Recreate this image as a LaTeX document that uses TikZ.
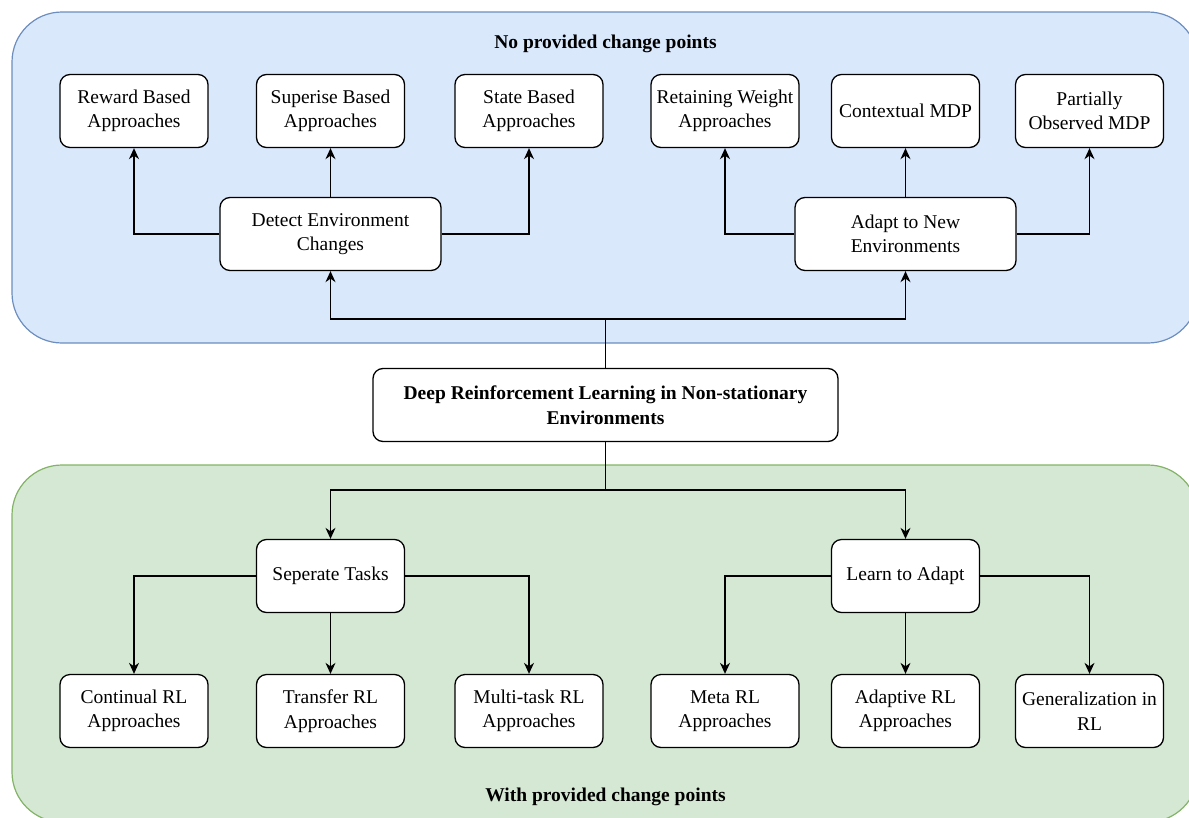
\documentclass[tikz,border=0pt]{standalone}
\usepackage{fontspec}
\setmainfont{Liberation Serif}
\usetikzlibrary{arrows.meta}
\definecolor{bluefill}{HTML}{DAE8FC}
\definecolor{bluedraw}{HTML}{6C8EBF}
\definecolor{greenfill}{HTML}{D5E8D4}
\definecolor{greendraw}{HTML}{82B366}

\begin{document}
\begin{tikzpicture}[x=1pt,y=-1pt,
  txt/.style={font=\fontsize{19.5}{24.5}\selectfont},
  box/.style={txt, draw=black, fill=white, rounded corners=10pt, line width=1.3pt,
    minimum width=148pt, minimum height=73pt, align=center, inner sep=2pt},
  widebox/.style={box, minimum width=221pt},
  rootbox/.style={box, minimum width=465pt, font=\fontsize{19.5}{24.5}\selectfont\bfseries},
  title/.style={txt, font=\fontsize{19.5}{24.5}\selectfont\bfseries},
  group/.style={line width=1.2pt, rounded corners=50pt},
  link/.style={line width=1.3pt},
  arr/.style={link, -{Stealth[length=11pt,width=10pt,inset=3.5pt]}}
]
\useasboundingbox (0,0) rectangle (1189,817);
\clip (0,0) rectangle (1189,817);

% group panels
\draw[group, fill=bluefill, draw=bluedraw] (12,12) rectangle (1198,343);
\draw[group, fill=greenfill, draw=greendraw] (12,465) rectangle (1198,822);

\node[title] (toptitle) at (605.5,44) {No provided change points};
\node[title] (bottitle) at (605.5,797) {With provided change points};

% top row
\node[box] (reward) at (134,111) {Reward Based\\Approaches};
\node[box] (superise) at (330.5,111) {Superise Based\\Approaches};
\node[box] (state) at (529,111) {State Based\\Approaches};
\node[box] (retain) at (725,111) {Retaining Weight\\Approaches};
\node[box] (context) at (905.5,111) {Contextual MDP};
\node[box] (pomdp) at (1089.5,111) {Partially\\Observed MDP};

\node[widebox] (detect) at (330.5,234) {Detect Environment\\Changes};
\node[widebox] (adapt) at (905.5,234) {Adapt to New\\Environments};

\node[rootbox] (root) at (605.5,405) {Deep Reinforcement Learning in Non-stationary\\Environments};

\node[box] (separate) at (330.5,576) {Seperate Tasks};
\node[box] (learn) at (905.5,576) {Learn to Adapt};

\node[box] (continual) at (134,711) {Continual RL\\Approaches};
\node[box] (transfer) at (330.5,711) {Transfer RL\\Approaches};
\node[box] (multitask) at (529,711) {Multi-task RL\\Approaches};
\node[box] (meta) at (725,711) {Meta RL\\Approaches};
\node[box] (adaptive) at (905.5,711) {Adaptive RL\\Approaches};
\node[box] (general) at (1089.5,711) {Generalization in\\RL};

% bus junctions
\coordinate (topbus) at (605.5,319);
\coordinate (botbus) at (605.5,490);

% upper tree
\draw[link] (root.north) -- (topbus);
\draw[arr] (topbus) -| (detect.south);
\draw[arr] (topbus) -| (adapt.south);
\draw[arr] (detect.west) -| (reward.south);
\draw[arr] (detect.north) -- (superise.south);
\draw[arr] (detect.east) -| (state.south);
\draw[arr] (adapt.west) -| (retain.south);
\draw[arr] (adapt.north) -- (context.south);
\draw[arr] (adapt.east) -| (pomdp.south);

% lower tree
\draw[link] (root.south) -- (botbus);
\draw[arr] (botbus) -| (separate.north);
\draw[arr] (botbus) -| (learn.north);
\draw[arr] (separate.west) -| (continual.north);
\draw[arr] (separate.south) -- (transfer.north);
\draw[arr] (separate.east) -| (multitask.north);
\draw[arr] (learn.west) -| (meta.north);
\draw[arr] (learn.south) -- (adaptive.north);
\draw[arr] (learn.east) -| (general.north);
\end{tikzpicture}
\end{document}
